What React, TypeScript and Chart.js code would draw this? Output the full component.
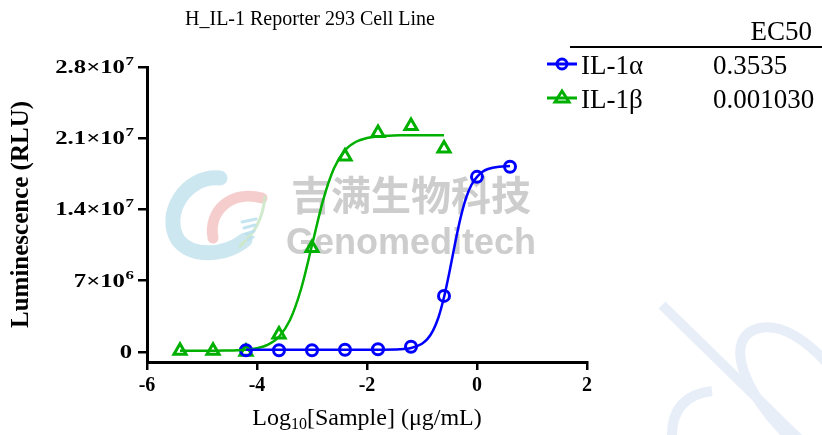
import React, { useEffect, useRef } from "react";
import { Chart, registerables } from "chart.js";

Chart.register(...registerables);

const TITLE = "H_IL-1 Reporter 293 Cell Line";
const SERIES_NAMES = ["IL-1α", "IL-1β"];
const EC50_VALUES = ["0.3535", "0.001030"];
const X_TICKS = [-6, -4, -2, 0, 2];
const Y_TICKS = [0, 7e6, 1.4e7, 2.1e7, 2.8e7];
const Y_TICK_MAIN = ["0", "7×10", "1.4×10", "2.1×10", "2.8×10"];
const Y_TICK_EXP = ["", "6", "7", "7", "7"];

// measured points (log10 µg/mL, RLU)
const alphaX = [-4.2, -3.6, -3.0, -2.4, -1.8, -1.2, -0.6, 0, 0.6];
const alphaY = [0.15e6, 0.15e6, 0.15e6, 0.2e6, 0.25e6, 0.5e6, 5.5e6, 17.2e6, 18.2e6];
const betaX = [-5.4, -4.8, -4.2, -3.6, -3.0, -2.4, -1.8, -1.2, -0.6];
const betaY = [0.1e6, 0.1e6, 0.0e6, 1.7e6, 10.2e6, 19.2e6, 21.5e6, 22.2e6, 20.0e6];

// fitted curves
const alphaFitX = [-4.2, -3.6, -3.0, -2.4, -1.8, -1.4, -1.2, -1.0, -0.9, -0.8, -0.7, -0.6, -0.5, -0.4, -0.3, -0.2, -0.1, 0, 0.1, 0.2, 0.4, 0.6];
const alphaFitY = [0.2e6, 0.2e6, 0.2e6, 0.2e6, 0.21e6, 0.25e6, 0.38e6, 0.8e6, 1.27e6, 2.09e6, 3.4e6, 5.36e6, 7.87e6, 10.63e6, 13.14e6, 15.1e6, 16.42e6, 17.2e6, 17.7e6, 17.97e6, 18.2e6, 18.27e6];
const betaFitX = [-5.4, -5.0, -4.6, -4.2, -4.0, -3.8, -3.6, -3.4, -3.2, -3.0, -2.8, -2.6, -2.4, -2.2, -2.0, -1.8, -1.6, -1.4, -1.2, -0.9, -0.6];
const betaFitY = [0.1e6, 0.1e6, 0.12e6, 0.21e6, 0.35e6, 0.7e6, 1.48e6, 3.12e6, 6.15e6, 10.47e6, 14.87e6, 18.04e6, 19.81e6, 20.65e6, 21.02e6, 21.18e6, 21.25e6, 21.28e6, 21.29e6, 21.3e6, 21.3e6];

const BLUE = "#0000ff";
const GREEN = "#00b000";
const SERIF = "'Liberation Serif', 'Times New Roman', serif";

const pts = (xs: number[], ys: number[]) => xs.map((x, i) => ({ x, y: ys[i] }));

const watermarkPlugin = {
  id: "watermark",
  beforeDatasetsDraw(chart: any) {
    const ctx = chart.ctx;
    ctx.save();
    // bottom-right faint strokes
    ctx.strokeStyle = "rgba(232,238,248,1)";
    ctx.lineWidth = 10;
    ctx.beginPath();
    ctx.moveTo(662, 305);
    ctx.lineTo(800, 440);
    ctx.stroke();
    ctx.beginPath();
    ctx.moveTo(792, 440);
    ctx.bezierCurveTo(742, 392, 722, 336, 760, 328);
    ctx.bezierCurveTo(785, 323, 810, 345, 826, 362);
    ctx.stroke();
    ctx.beginPath();
    ctx.moveTo(712, 391);
    ctx.quadraticCurveTo(670, 396, 672, 440);
    ctx.stroke();
    // logo
    ctx.lineCap = "round";
    ctx.strokeStyle = "rgba(200,228,238,0.9)";
    ctx.lineWidth = 15;
    ctx.beginPath();
    ctx.moveTo(220, 178);
    ctx.bezierCurveTo(185, 175, 162, 215, 178, 240);
    ctx.bezierCurveTo(192, 258, 225, 256, 245, 240);
    ctx.stroke();
    ctx.strokeStyle = "rgba(245,196,196,0.85)";
    ctx.lineWidth = 11;
    ctx.beginPath();
    ctx.moveTo(262, 198);
    ctx.bezierCurveTo(232, 190, 208, 210, 213, 238);
    ctx.stroke();
    ctx.strokeStyle = "rgba(205,232,200,0.9)";
    ctx.lineWidth = 3;
    ctx.beginPath();
    ctx.moveTo(265, 197);
    ctx.quadraticCurveTo(262, 228, 240, 246);
    ctx.stroke();
    ctx.strokeStyle = "rgba(190,225,238,0.9)";
    ctx.lineWidth = 3;
    for (let i = 0; i < 4; i++) {
      ctx.beginPath();
      ctx.moveTo(242 + i * 2, 222 + i * 6);
      ctx.lineTo(256 - i * 1, 219 + i * 6);
      ctx.stroke();
    }
    // text
    ctx.fillStyle = "rgba(205,205,205,1)";
    ctx.textAlign = "center";
    ctx.textBaseline = "middle";
    ctx.font = "bold 40px 'Noto Sans CJK SC'";
    ctx.fillText("吉满生物科技", 411, 195);
    ctx.textBaseline = "alphabetic";
    ctx.font = "bold 36px 'Liberation Sans', Arial, sans-serif";
    ctx.fillText("Genomeditech", 411, 254);
    ctx.restore();
  },
};

const decorPlugin = {
  id: "decor",
  afterDraw(chart: any) {
    const ctx = chart.ctx;
    ctx.save();
    ctx.fillStyle = "#000";
    // title
    ctx.font = `20px ${SERIF}`;
    ctx.textAlign = "center";
    ctx.textBaseline = "alphabetic";
    ctx.fillText(TITLE, 310, 25);

    // y tick labels with superscripts, at the scale's tick positions
    const ys = chart.scales.y;
    ys.ticks.forEach((t: any) => {
      const i = Y_TICKS.indexOf(t.value);
      if (i < 0) return;
      const py = ys.getPixelForValue(t.value);
      const sx = 1.3;
      ctx.save();
      ctx.textBaseline = "alphabetic";
      ctx.textAlign = "left";
      ctx.font = `bold 19px ${SERIF}`;
      const wm = ctx.measureText(Y_TICK_MAIN[i]).width;
      ctx.font = `bold 13px ${SERIF}`;
      const we = Y_TICK_EXP[i] ? ctx.measureText(Y_TICK_EXP[i]).width + 0.5 : 0;
      const right = Y_TICK_EXP[i] ? 134 : 132;
      ctx.translate(right, py);
      ctx.scale(sx, 1);
      const x0 = -(wm + we);
      ctx.font = `bold 19px ${SERIF}`;
      ctx.fillText(Y_TICK_MAIN[i], x0, 6);
      if (Y_TICK_EXP[i]) {
        ctx.font = `bold 13px ${SERIF}`;
        ctx.fillText(Y_TICK_EXP[i], x0 + wm + 0.5, -2);
      }
      ctx.restore();
    });

    // x axis title with subscript
    const xs = chart.scales.x;
    const cx = (xs.left + xs.right) / 2;
    const base = 425;
    ctx.font = `24px ${SERIF}`;
    const a = "Log";
    const b = "[Sample] (μg/mL)";
    const wa = ctx.measureText(a).width;
    const wb = ctx.measureText(b).width;
    ctx.font = `16px ${SERIF}`;
    const ws = ctx.measureText("10").width;
    const x0 = cx - (wa + ws + wb) / 2;
    ctx.textAlign = "left";
    ctx.font = `24px ${SERIF}`;
    ctx.fillText(a, x0, base);
    ctx.font = `16px ${SERIF}`;
    ctx.fillText("10", x0 + wa, base + 4);
    ctx.font = `24px ${SERIF}`;
    ctx.fillText(b, x0 + wa + ws, base);

    // legend table
    ctx.font = `27px ${SERIF}`;
    ctx.textAlign = "right";
    ctx.fillText("EC50", 812, 40);
    ctx.fillRect(570, 46, 252, 2);
    const rows = [
      { y: 64, color: BLUE, kind: "circle" },
      { y: 98, color: GREEN, kind: "triangle" },
    ];
    rows.forEach((r, i) => {
      ctx.strokeStyle = r.color;
      ctx.fillStyle = r.color;
      ctx.lineWidth = 3;
      ctx.beginPath();
      ctx.moveTo(547, r.y);
      ctx.lineTo(577, r.y);
      ctx.stroke();
      ctx.beginPath();
      if (r.kind === "circle") {
        ctx.arc(562, r.y, 5, 0, Math.PI * 2);
      } else {
        ctx.moveTo(562, r.y - 7);
        ctx.lineTo(569, r.y + 4);
        ctx.lineTo(555, r.y + 4);
        ctx.closePath();
      }
      ctx.stroke();
      ctx.fillStyle = "#000";
      ctx.textAlign = "left";
      ctx.font = `27px ${SERIF}`;
      ctx.fillText(SERIES_NAMES[i], 581, r.y + 10);
      ctx.fillText(EC50_VALUES[i], 713, r.y + 10);
    });
    ctx.restore();
  },
};

export default function App() {
  const ref = useRef<HTMLCanvasElement>(null);
  useEffect(() => {
    if (!ref.current) return;
    const chart = new Chart(ref.current, {
      type: "scatter",
      data: {
        datasets: [
          {
            label: "IL-1α fit",
            data: pts(alphaFitX, alphaFitY),
            showLine: true,
            borderColor: BLUE,
            borderWidth: 2.5,
            pointRadius: 0,
            cubicInterpolationMode: "monotone",
          },
          {
            label: "IL-1β fit",
            data: pts(betaFitX, betaFitY),
            showLine: true,
            borderColor: GREEN,
            borderWidth: 2.5,
            pointRadius: 0,
            cubicInterpolationMode: "monotone",
          },
          {
            label: SERIES_NAMES[0],
            data: pts(alphaX, alphaY),
            showLine: false,
            borderColor: BLUE,
            backgroundColor: "rgba(0,0,0,0)",
            pointStyle: "circle",
            pointRadius: 5.5,
            pointBorderWidth: 3,
          },
          {
            label: SERIES_NAMES[1],
            data: pts(betaX, betaY),
            showLine: false,
            borderColor: GREEN,
            backgroundColor: "rgba(0,0,0,0)",
            pointStyle: "triangle",
            pointRadius: 7,
            pointBorderWidth: 3,
          },
        ],
      },
      options: {
        animation: false,
        responsive: false,
        layout: { padding: { left: 0, top: 67, right: 235, bottom: 0 } },
        plugins: { legend: { display: false }, title: { display: false }, tooltip: { enabled: false } },
        scales: {
          x: {
            type: "linear",
            min: -6,
            max: 2,
            afterBuildTicks: (s: any) => {
              s.ticks = X_TICKS.map((v) => ({ value: v }));
            },
            afterFit: (s: any) => {
              s.height = 73;
            },
            grid: { display: true, drawOnChartArea: false, drawTicks: true, tickLength: 8, color: "#000", lineWidth: 2.5 },
            border: { display: true, color: "#000", width: 3 },
            ticks: {
              color: "#000",
              font: { family: SERIF, weight: "bold", size: 20 },
              padding: 4,
              callback: (v: any) => String(v),
            },
          },
          y: {
            type: "linear",
            min: -1e6,
            max: 2.8e7,
            afterBuildTicks: (s: any) => {
              s.ticks = Y_TICKS.map((v) => ({ value: v }));
            },
            afterFit: (s: any) => {
              s.width = 147;
            },
            grid: { display: true, drawOnChartArea: false, drawTicks: true, tickLength: 9, color: "#000", lineWidth: 2.5 },
            border: { display: true, color: "#000", width: 3 },
            title: {
              display: true,
              text: "Luminescence (RLU)",
              color: "#000",
              font: { family: SERIF, weight: "bold", size: 25 },
              padding: { top: 7, bottom: 0 },
            },
            ticks: {
              color: "#000",
              font: { family: SERIF, weight: "bold", size: 19 },
              padding: 2,
              callback: () => "",
            },
          },
        },
      },
      plugins: [watermarkPlugin, decorPlugin],
    } as any);
    return () => chart.destroy();
  }, []);
  return (
    <div style={{ position: "absolute", left: 0, top: 0, width: 822, height: 435, background: "#fff" }}>
      <canvas ref={ref} width={822} height={435} style={{ display: "block" }} />
    </div>
  );
}
